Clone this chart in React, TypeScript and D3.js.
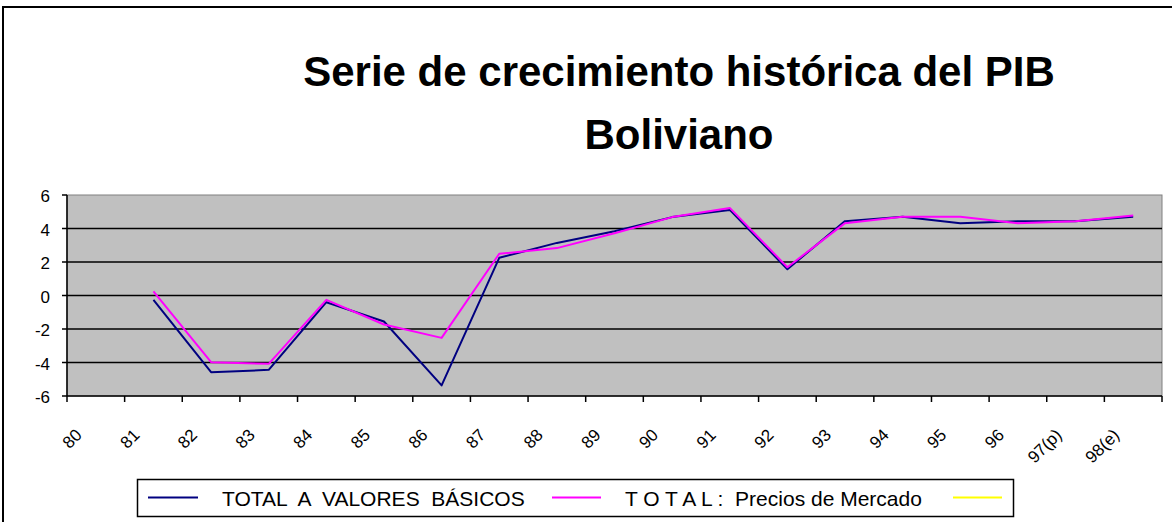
import React from "react";
import * as d3 from "d3";

const categories = ["80", "81", "82", "83", "84", "85", "86", "87", "88", "89", "90", "91", "92", "93", "94", "95", "96", "97(p)", "98(e)"];
const basicos: (number | null)[] = [null, -0.26, -4.58, -4.44, -0.4, -1.55, -5.37, 2.25, 3.14, 3.84, 4.68, 5.11, 1.57, 4.44, 4.7, 4.32, 4.44, 4.44, 4.7];
const mercado: (number | null)[] = [null, 0.24, -3.98, -4.08, -0.26, -1.73, -2.53, 2.49, 2.83, 3.72, 4.68, 5.23, 1.69, 4.32, 4.7, 4.7, 4.32, 4.44, 4.78];
const tercera: (number | null)[] = categories.map(() => null);
const yTicks = [-6, -4, -2, 0, 2, 4, 6];
const titleLines = ["Serie de crecimiento histórica del PIB", "Boliviano"];
const seriesNames = ["TOTAL  A  VALORES  BÁSICOS", "T O T A L :  Precios de Mercado", ""];
const seriesColors = ["#000080", "#FF00FF", "#FFFF00"];

export default function App() {
  const W = 1172, H = 522;
  const left = 67, right = 1162, top = 195, bottom = 396;
  const x = d3.scaleBand<string>().domain(categories).range([left, right]).padding(0);
  const y = d3.scaleLinear().domain([-6, 6]).range([bottom, top]);
  const bw = x.bandwidth();
  const line = d3
    .line<number | null>()
    .defined((d) => d !== null)
    .x((_, i) => (x(categories[i]) as number) + bw / 2)
    .y((d) => y(d as number));
  const allSeries = [basicos, mercado, tercera];
  const font = "Arial, 'Liberation Sans', sans-serif";
  const tickEdges = categories.map((c) => x(c) as number).concat([right]);

  const legendItems = [
    { lx1: 148, lx2: 198, tx: 222 },
    { lx1: 552, lx2: 601, tx: 625 },
    { lx1: 953, lx2: 1002, tx: 1030 },
  ];

  return (
    <svg width={W} height={H} style={{ position: "absolute", left: 0, top: 0, background: "#fff" }} fontFamily={font}>
      <rect x={0} y={0} width={W} height={H} fill="#fff" />
      <rect x={3} y={7} width={1200} height={600} fill="#fff" stroke="#000" strokeWidth={2} />
      {titleLines.map((t, i) => (
        <text key={i} x={679} y={86 + i * 63} textAnchor="middle" fontSize={42} fontWeight="bold" fill="#000">
          {t}
        </text>
      ))}
      {/* plot area */}
      <rect x={left} y={top} width={right - left} height={bottom - top} fill="#C0C0C0" stroke="#808080" strokeWidth={1} />
      {yTicks.filter((v) => v !== -6 && v !== 6).map((v) => (
        <line key={v} x1={left} x2={right} y1={y(v)} y2={y(v)} stroke="#000" strokeWidth={1.5} />
      ))}
      {/* axes */}
      <line x1={left} x2={left} y1={top} y2={bottom} stroke="#000" strokeWidth={1.5} />
      <line x1={left} x2={right} y1={bottom} y2={bottom} stroke="#000" strokeWidth={1.5} />
      {yTicks.map((v) => (
        <g key={v}>
          <line x1={left - 5} x2={left} y1={y(v)} y2={y(v)} stroke="#000" strokeWidth={1.5} />
          <text x={50} y={y(v) + 7} textAnchor="end" fontSize={17} fill="#000">
            {v}
          </text>
        </g>
      ))}
      {tickEdges.map((tx, i) => (
        <line key={i} x1={tx} x2={tx} y1={bottom} y2={bottom + 6} stroke="#000" strokeWidth={1.5} />
      ))}
      {categories.map((c) => {
        const tx = (x(c) as number) + 16;
        const ty = 436;
        return (
          <text key={c} x={tx} y={ty} textAnchor="end" fontSize={17} fill="#000" transform={`rotate(-45 ${tx} ${ty})`}>
            {c}
          </text>
        );
      })}
      {allSeries.map((s, i) => (
        <path key={i} d={line(s) || ""} fill="none" stroke={seriesColors[i]} strokeWidth={2} strokeLinejoin="round" />
      ))}
      {/* legend */}
      <rect x={137.5} y={479.5} width={876} height={37} fill="#fff" stroke="#000" strokeWidth={1.5} />
      {legendItems.map((it, i) => (
        <g key={i}>
          <line x1={it.lx1} x2={it.lx2} y1={497.5} y2={497.5} stroke={seriesColors[i]} strokeWidth={2} />
          {seriesNames[i] && (
            <text x={it.tx} y={505.5} fontSize={21} fill="#000" style={{ whiteSpace: "pre" }}>
              {seriesNames[i]}
            </text>
          )}
        </g>
      ))}
    </svg>
  );
}
